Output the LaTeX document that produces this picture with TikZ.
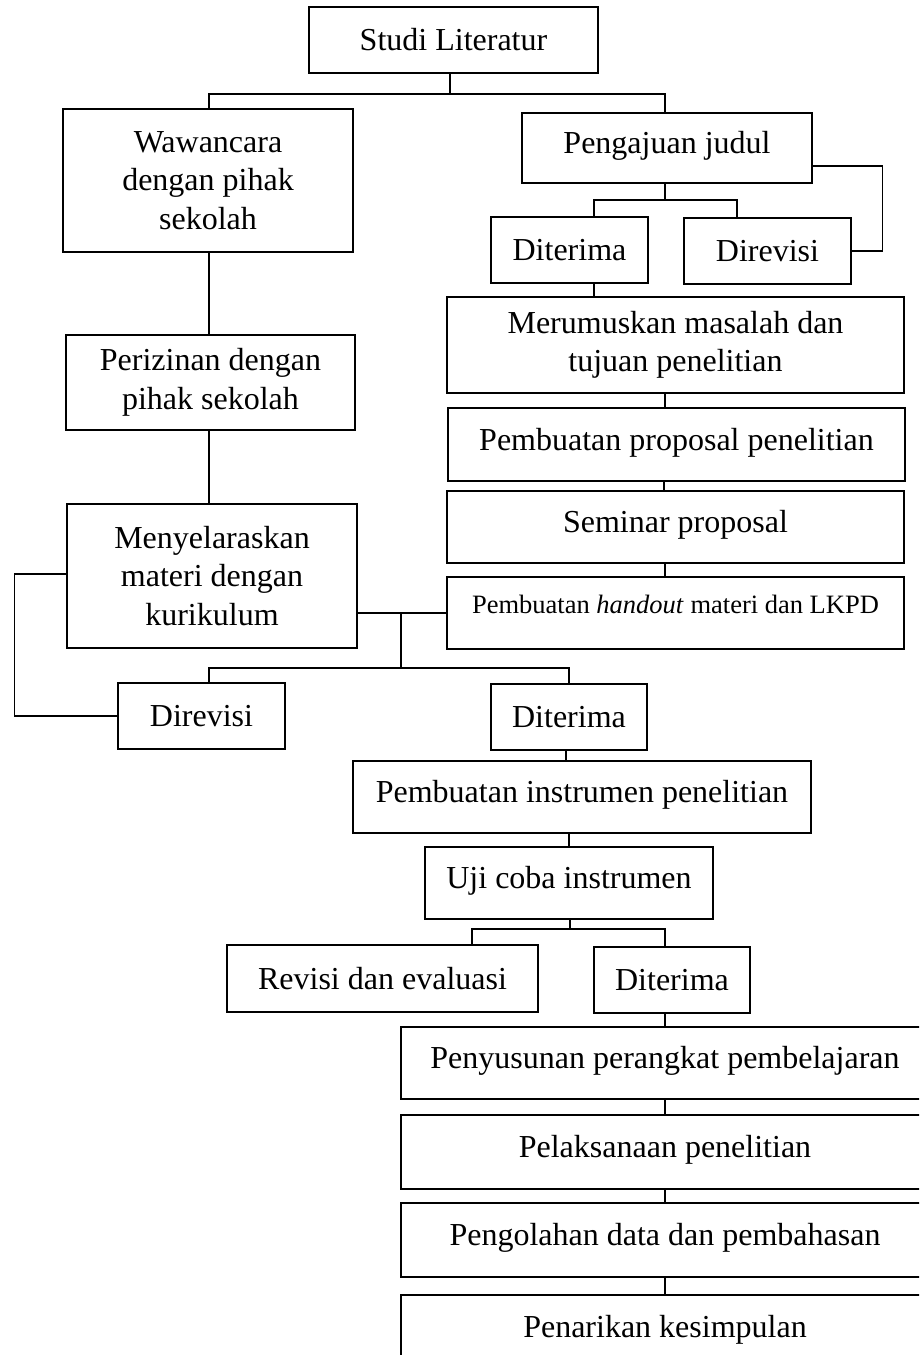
\documentclass[tikz,border=0pt]{standalone}
\usepackage{fontspec}
\setmainfont{Liberation Serif}
\usetikzlibrary{calc}
\begin{document}
\begin{tikzpicture}[x=1pt,y=-1pt,
  box/.style={draw=black, line width=1.1pt, inner sep=0pt, align=center,
    font=\fontsize{32}{38.5}\selectfont},
  lift/.style={text height=23pt, text depth=12pt},
  conn/.style={draw=black, line width=1.1pt}]
\useasboundingbox (0,0) rectangle (919,1355);
\clip (0,0) rectangle (919,1355);
% left column
\node[box, minimum width=289pt, minimum height=66pt] (studi) at (453.5,40) {Studi Literatur};
\node[box, minimum width=290pt, minimum height=143pt] (waw) at (208,180.5) {Wawancara\\dengan pihak\\sekolah};
\node[box, minimum width=289pt, minimum height=95pt] (periz) at (210.5,382.5) {Perizinan dengan\\pihak sekolah};
\node[box, minimum width=290pt, minimum height=144pt] (meny) at (212,576) {Menyelaraskan\\materi dengan\\kurikulum};
% right column
\node[box, lift, minimum width=290pt, minimum height=70pt] (peng) at (667,148) {Pengajuan judul};
\node[box, minimum width=157pt, minimum height=66pt] (dita) at (569.5,250) {Diterima};
\node[box, minimum width=167pt, minimum height=66pt] (dira) at (767.5,251) {Direvisi};
\node[box, minimum width=457pt, minimum height=96pt] (merum) at (675.5,345) {Merumuskan masalah dan\\tujuan penelitian};
\node[box, lift, minimum width=457pt, minimum height=73pt] (prop) at (676.5,444.5) {Pembuatan proposal penelitian};
\node[box, lift, minimum width=457pt, minimum height=72pt] (sem) at (675.5,527) {Seminar proposal};
\node[box, minimum width=457pt, minimum height=72pt, font=\fontsize{26.5}{32}\selectfont, text height=18pt, text depth=17pt] (hand) at (675.5,613) {Pembuatan \textit{handout} materi dan LKPD};
% middle
\node[box, minimum width=167pt, minimum height=66pt] (dirb) at (201.5,716) {Direvisi};
\node[box, minimum width=156pt, minimum height=66pt] (ditb) at (569,717) {Diterima};
\node[box, lift, minimum width=458pt, minimum height=72pt] (instr) at (582,797) {Pembuatan instrumen penelitian};
\node[box, lift, minimum width=288pt, minimum height=72pt] (uji) at (569,883) {Uji coba instrumen};
\node[box, minimum width=311pt, minimum height=67pt] (rev) at (382.5,978.5) {Revisi dan evaluasi};
\node[box, minimum width=156pt, minimum height=66pt] (ditc) at (672,980) {Diterima};
% bottom
\node[box, lift, minimum width=528pt, minimum height=72pt] (pen) at (665,1063) {Penyusunan perangkat pembelajaran};
\node[box, lift, minimum width=528pt, minimum height=74pt] (pel) at (665,1152) {Pelaksanaan penelitian};
\node[box, lift, minimum width=528pt, minimum height=74pt] (pengol) at (665,1240) {Pengolahan data dan pembahasan};
\node[box, lift, minimum width=528pt, minimum height=74pt] (penar) at (665,1332) {Penarikan kesimpulan};
% junctions
\coordinate (j1) at (450,94);
\coordinate (j2) at (665,200);
\coordinate (j3) at (401,613);
\coordinate (j4) at (401,668);
\coordinate (j5) at (570,929);
% connectors
\draw[conn] (j1 |- studi.south) -- (j1);
\draw[conn] ([xshift=1pt]waw.north) |- (j1) -| ([xshift=-2pt]peng.north);
\draw[conn] (j2 |- peng.south) -- (j2);
\draw[conn] ([xshift=24.5pt]dita.north) |- (j2) -| ([xshift=-30.5pt]dira.north);
\draw[conn] ([yshift=-18pt]peng.east) -- ++(70,0) |- (dira.east);
\draw[conn] ([xshift=24.5pt]dita.south) -- ([xshift=24.5pt]dita.south |- merum.north);
\draw[conn] ([xshift=-10.5pt]merum.south) -- ([xshift=-10.5pt]merum.south |- prop.north);
\draw[conn] ([xshift=-12.5pt]prop.south) -- ([xshift=-12.5pt]prop.south |- sem.north);
\draw[conn] ([xshift=-10.5pt]sem.south) -- ([xshift=-10.5pt]sem.south |- hand.north);
\draw[conn] ([xshift=1pt]waw.south) -- ([xshift=1pt]waw.south |- periz.north);
\draw[conn] ([xshift=-1.5pt]periz.south) -- ([xshift=-1.5pt]periz.south |- meny.north);
\draw[conn] (hand.west) -- (hand.west -| meny.east);
\draw[conn] (j3) -- (j4);
\draw[conn] ([xshift=7.5pt]dirb.north) |- (j4) -| (ditb.north);
\draw[conn] ([yshift=2pt]meny.west) -- ++(-52,0) |- (dirb.west);
\draw[conn] ([xshift=-3pt]ditb.south) -- ([xshift=-3pt]ditb.south |- instr.north);
\draw[conn] (uji.north |- instr.south) -- (uji.north);
\draw[conn] (j5 |- uji.south) -- (j5);
\draw[conn] ([xshift=89.5pt]rev.north) |- (j5) -| ([xshift=-7pt]ditc.north);
\draw[conn] ([xshift=-7pt]ditc.south) -- (pen.north);
\draw[conn] (pen.south) -- (pel.north);
\draw[conn] (pel.south) -- (pengol.north);
\draw[conn] (pengol.south) -- (penar.north);
\end{tikzpicture}
\end{document}
